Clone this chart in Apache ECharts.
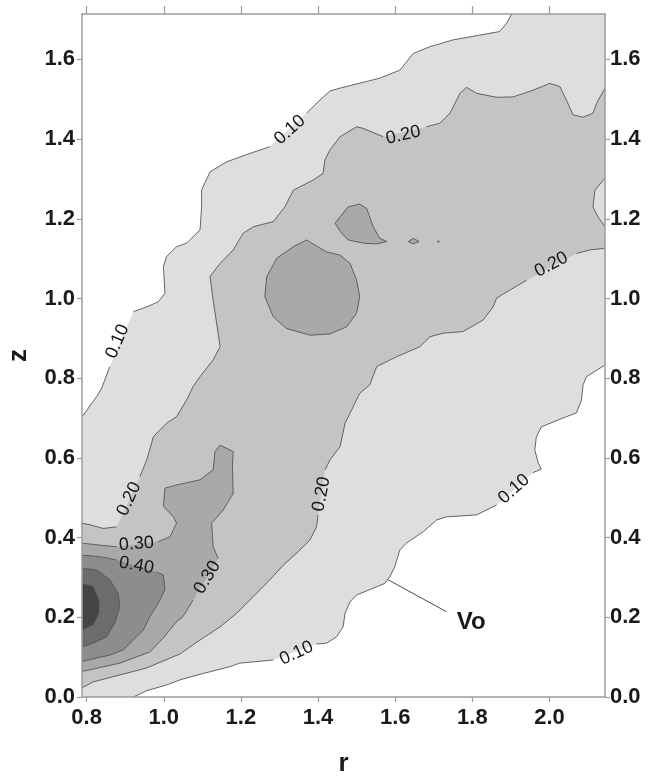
<!DOCTYPE html>
<html>
<head>
<meta charset="utf-8">
<script src="https://cdn.jsdelivr.net/npm/echarts@6/dist/echarts.min.js"></script>
<style>
html,body{margin:0;padding:0;background:#fff;}
#chart{width:648px;height:776px;}
</style>
</head>
<body>
<div id="chart"></div>
<script>
// ---- data (r, z); null = contour line break (label gap or plot edge) ----
const xTicks = [0.8, 1.0, 1.2, 1.4, 1.6, 1.8, 2.0];
const yTicks = [0.0, 0.2, 0.4, 0.6, 0.8, 1.0, 1.2, 1.4, 1.6];

const contour10 = [
  [0.788,0.703],[0.826,0.754],[0.839,0.775],[0.860,0.829],null,
  [0.921,0.967],[0.956,0.979],[0.986,0.992],[1.003,1.013],[0.999,1.080],[1.007,1.105],
  [1.033,1.130],[1.059,1.139],[1.094,1.172],[1.098,1.230],[1.098,1.272],[1.120,1.318],
  [1.163,1.343],[1.223,1.364],[1.275,1.381],null,
  [1.370,1.465],[1.405,1.498],[1.431,1.521],[1.457,1.528],[1.560,1.553],[1.612,1.573],
  [1.647,1.615],[1.690,1.632],[1.750,1.649],[1.819,1.661],[1.871,1.670],[1.889,1.691],
  [1.902,1.714],null,[2.144,1.714],null,
  [2.144,0.833],[2.096,0.804],[2.087,0.783],[2.083,0.745],[2.070,0.713],[2.035,0.700],
  [1.979,0.678],[1.966,0.653],[1.962,0.620],[1.971,0.587],[1.979,0.572],[1.957,0.563],null,
  [1.863,0.482],[1.811,0.457],[1.733,0.452],[1.707,0.444],[1.673,0.415],[1.629,0.386],
  [1.612,0.369],[1.599,0.327],[1.586,0.302],[1.573,0.285],[1.543,0.273],[1.500,0.256],
  [1.483,0.239],[1.470,0.210],[1.465,0.176],[1.448,0.151],[1.422,0.135],[1.396,0.133],null,
  [1.284,0.093],[1.197,0.085],[1.171,0.076],[1.102,0.059],[1.042,0.043],[1.007,0.030],
  [0.956,0.016],[0.921,0.000],null,[0.788,0.000],null
];

const contour20 = [
  [0.788,0.436],[0.809,0.432],[0.843,0.423],[0.878,0.427],null,
  [0.938,0.553],[0.956,0.595],[0.973,0.653],[1.007,0.687],[1.033,0.703],[1.059,0.745],
  [1.076,0.779],[1.094,0.804],[1.128,0.846],[1.146,0.879],[1.141,0.913],[1.128,0.996],
  [1.120,1.055],[1.146,1.088],[1.180,1.122],[1.206,1.164],[1.232,1.180],[1.284,1.193],
  [1.314,1.230],[1.336,1.272],[1.387,1.297],[1.413,1.314],[1.418,1.348],[1.431,1.373],
  [1.457,1.406],[1.500,1.431],[1.517,1.427],[1.569,1.406],null,
  [1.681,1.431],[1.716,1.440],[1.742,1.465],[1.768,1.515],[1.785,1.530],[1.811,1.515],
  [1.863,1.505],[1.906,1.506],[1.958,1.523],[2.001,1.540],[2.027,1.532],[2.044,1.498],
  [2.061,1.461],[2.087,1.455],[2.113,1.465],[2.122,1.490],[2.144,1.528],null,
  [2.144,1.302],[2.118,1.272],[2.113,1.230],[2.126,1.205],[2.144,1.180],null,
  [2.144,1.126],[2.105,1.122],[2.070,1.113],null,
  [1.941,1.046],[1.897,1.021],[1.863,1.001],[1.854,0.979],[1.828,0.946],[1.776,0.917],
  [1.724,0.913],[1.690,0.904],[1.664,0.879],[1.604,0.854],[1.552,0.829],[1.534,0.783],
  [1.508,0.762],[1.487,0.720],[1.470,0.687],[1.457,0.628],[1.431,0.595],[1.418,0.570],null,
  [1.400,0.457],[1.396,0.427],[1.379,0.394],[1.349,0.365],[1.310,0.331],[1.275,0.294],
  [1.232,0.252],[1.189,0.210],[1.146,0.176],[1.094,0.143],[1.042,0.108],[0.956,0.073],
  [0.869,0.051],[0.817,0.038],[0.788,0.023],null
];

const contour30a = [
  [0.788,0.386],[0.835,0.381],[0.878,0.377],null,
  [0.986,0.390],[1.016,0.402],[1.033,0.436],[1.025,0.452],[0.999,0.478],[1.003,0.524],
  [1.033,0.532],[1.094,0.545],[1.128,0.570],[1.133,0.616],[1.146,0.632],[1.180,0.616],
  [1.178,0.578],[1.180,0.511],[1.154,0.469],[1.124,0.436],[1.128,0.377],[1.141,0.348],null,
  [1.076,0.243],[1.050,0.202],[1.032,0.188],[1.003,0.153],[0.964,0.113],[0.886,0.085],
  [0.826,0.072],[0.788,0.064],null
];
const contour30b = [
  [1.370,1.147],[1.422,1.117],[1.457,1.109],[1.483,1.088],[1.500,1.046],[1.508,1.005],
  [1.500,0.963],[1.474,0.929],[1.431,0.911],[1.379,0.908],[1.318,0.925],[1.284,0.954],
  [1.262,1.005],[1.267,1.055],[1.293,1.101],[1.336,1.130]
];
const contour30c = [
  [1.444,1.189],[1.478,1.230],[1.508,1.237],[1.526,1.226],[1.543,1.180],[1.560,1.151],
  [1.578,1.143],[1.552,1.137],[1.517,1.139],[1.478,1.147],[1.461,1.164]
];
const contour30d = [[1.634,1.143],[1.647,1.151],[1.662,1.143],[1.647,1.137]];
const contour30e = [[1.709,1.143],[1.712,1.145],[1.715,1.143],[1.712,1.141]];
const contour40 = [
  [0.788,0.356],[0.835,0.352],[0.878,0.344],null,
  [0.981,0.314],[0.999,0.306],[1.003,0.269],[0.990,0.243],[0.964,0.202],[0.947,0.168],
  [0.921,0.143],[0.895,0.118],[0.860,0.105],[0.835,0.100],[0.788,0.089],null
];
const contour50 = [
  [0.788,0.323],[0.826,0.319],[0.860,0.294],[0.882,0.260],[0.886,0.227],[0.873,0.185],
  [0.852,0.151],[0.817,0.135],[0.788,0.126],null
];
const contour60 = [
  [0.788,0.285],[0.817,0.277],[0.832,0.243],[0.832,0.210],[0.817,0.181],[0.788,0.168],null
];

const labelText = ['0.10','0.10','0.20','0.20','0.20','0.30','0.40','0.30','0.20','0.10','0.10'];
const labelR    = [0.880, 1.327, 1.621, 2.005, 0.910, 0.929, 0.929, 1.113, 1.409, 1.908, 1.344];
const labelZ    = [0.892, 1.423, 1.410, 1.085, 0.497, 0.384, 0.330, 0.300, 0.509, 0.522, 0.110];

const voLeader = [[1.582,0.294],[1.733,0.214]];
const voText = ['Vo'];
const voR = [1.797];
const voZ = [0.187];

// ---- styling ----
const rings = [
  {pts: contour10,  fill: '#dedede'},
  {pts: contour20,  fill: '#c4c4c4'},
  {pts: contour30a, fill: '#a9a9a9'},
  {pts: contour30b, fill: '#a9a9a9'},
  {pts: contour30c, fill: '#a9a9a9'},
  {pts: contour30d, fill: '#a9a9a9'},
  {pts: contour30e, fill: '#a9a9a9'},
  {pts: contour40,  fill: '#8d8d8d'},
  {pts: contour50,  fill: '#6c6c6c'},
  {pts: contour60,  fill: '#444444'}
];
const labelAngles = [67, 42, 13, 28, 65, 4, -10, 59, 79, 42, 25];
const FONT = '"Liberation Sans", Arial, sans-serif';

function renderRing(params, api) {
  const ring = rings[params.dataIndex];
  const fillPts = [];
  const segs = [];
  let cur = [];
  ring.pts.forEach(p => {
    if (p === null) {
      if (cur.length > 1) segs.push(cur);
      cur = [];
    } else {
      const c = api.coord(p);
      fillPts.push(c);
      cur.push(c);
    }
  });
  const last = ring.pts[ring.pts.length - 1];
  if (last !== null) {
    if (segs.length === 0) { cur.push(cur[0]); segs.push(cur); }
    else { segs[0] = cur.concat(segs[0]); }
  } else if (cur.length > 1) segs.push(cur);
  const children = [{
    type: 'polygon', shape: {points: fillPts},
    style: {fill: ring.fill, stroke: null}
  }];
  segs.forEach(s => children.push({
    type: 'polyline', shape: {points: s},
    style: {stroke: '#555555', lineWidth: 0.9, fill: null}
  }));
  return {type: 'group', children: children};
}

function renderLabel(params, api) {
  const i = params.dataIndex;
  const c = api.coord([labelR[i], labelZ[i]]);
  return {
    type: 'text', x: c[0], y: c[1], rotation: labelAngles[i] * Math.PI / 180,
    style: {text: labelText[i], font: '18px ' + FONT, fill: '#161616',
            align: 'center', verticalAlign: 'middle'}
  };
}

function renderVo(params, api) {
  const i = params.dataIndex;
  const c = api.coord([voR[i], voZ[i]]);
  return {
    type: 'text', x: c[0], y: c[1],
    style: {text: voText[i], font: 'bold 24px ' + FONT, fill: '#1a1a1a',
            align: 'center', verticalAlign: 'middle'}
  };
}

const axisColor = '#9c9c9c';
const labelStyle = {fontSize: 22, fontWeight: 'bold', color: '#1a1a1a', fontFamily: FONT};
const titleStyle = {fontSize: 26, fontWeight: 'bold', color: '#1a1a1a', fontFamily: FONT};

const chart = echarts.init(document.getElementById('chart'), null, {renderer: 'canvas'});
chart.setOption({
  backgroundColor: '#ffffff',
  animation: false,
  grid: {left: 82, top: 14, width: 523, height: 683, outerBoundsMode: 'none', containLabel: false},
  xAxis: [{
    type: 'value', position: 'bottom', min: 0.788, max: 2.144, z: 10,
    axisLine: {show: true, onZero: false, lineStyle: {color: axisColor, width: 1.5}},
    axisTick: {show: true, length: 5, customValues: xTicks, lineStyle: {color: axisColor, width: 1.2}},
    axisLabel: Object.assign({customValues: xTicks, margin: 10, formatter: v => v.toFixed(1)}, labelStyle),
    splitLine: {show: false},
    name: 'r', nameLocation: 'middle', nameGap: 54,
    nameTextStyle: titleStyle
  }, {
    type: 'value', position: 'top', min: 0.788, max: 2.144, z: 10,
    axisLine: {show: true, onZero: false, lineStyle: {color: axisColor, width: 1.5}},
    axisTick: {show: true, length: 8, customValues: xTicks, lineStyle: {color: axisColor, width: 1.2}},
    axisLabel: {show: false},
    splitLine: {show: false}
  }],
  yAxis: [{
    type: 'value', position: 'left', min: 0, max: 1.714, z: 10,
    axisLine: {show: true, onZero: false, lineStyle: {color: axisColor, width: 1.5}},
    axisTick: {show: true, length: 5, customValues: yTicks, lineStyle: {color: axisColor, width: 1.2}},
    axisLabel: Object.assign({customValues: yTicks, margin: 7, formatter: v => v.toFixed(1)}, labelStyle),
    splitLine: {show: false},
    name: 'z', nameLocation: 'middle', nameGap: 50,
    nameTextStyle: titleStyle
  }, {
    type: 'value', position: 'right', min: 0, max: 1.714, z: 10,
    axisLine: {show: true, onZero: false, lineStyle: {color: axisColor, width: 1.5}},
    axisTick: {show: true, length: 5, customValues: yTicks, lineStyle: {color: axisColor, width: 1.2}},
    axisLabel: Object.assign({customValues: yTicks, margin: 5, formatter: v => v.toFixed(1)}, labelStyle),
    splitLine: {show: false}
  }],
  series: [{
    type: 'custom', xAxisIndex: 0, yAxisIndex: 0, clip: true, silent: true,
    renderItem: renderRing,
    data: rings.map((rg, i) => [rg.pts[0][0], rg.pts[0][1], i]),
    encode: {x: 0, y: 1}
  }, {
    type: 'line', xAxisIndex: 0, yAxisIndex: 0, data: voLeader, symbol: 'none', silent: true,
    lineStyle: {color: '#4a4a4a', width: 1}, z: 3
  }, {
    type: 'custom', xAxisIndex: 0, yAxisIndex: 0, silent: true, z: 4,
    renderItem: renderLabel,
    data: labelText.map((t, i) => [labelR[i], labelZ[i]]),
    encode: {x: 0, y: 1}
  }, {
    type: 'custom', xAxisIndex: 0, yAxisIndex: 0, silent: true, z: 4,
    renderItem: renderVo,
    data: voText.map((t, i) => [voR[i], voZ[i]]),
    encode: {x: 0, y: 1}
  }]
});
</script>
</body>
</html>
